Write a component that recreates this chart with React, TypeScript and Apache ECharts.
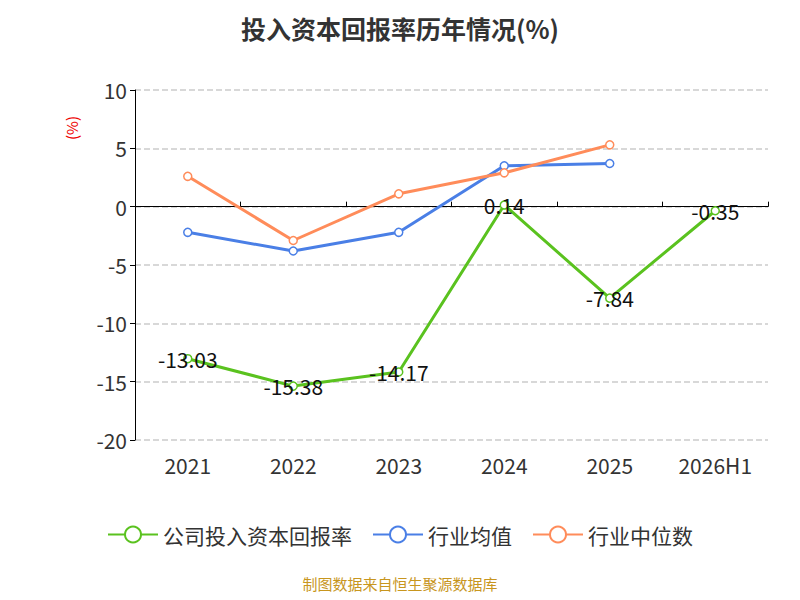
import React, { useEffect, useRef } from "react";
import * as echarts from "echarts";

const categories = ["2021", "2022", "2023", "2024", "2025", "2026H1"];
const company = [-13.03, -15.38, -14.17, 0.14, -7.84, -0.35];
const industryMean = [-2.2, -3.8, -2.2, 3.5, 3.7, null];
const industryMedian = [2.6, -2.9, 1.1, 2.9, 5.3, null];

export default function App() {
  const ref = useRef<HTMLDivElement>(null);
  useEffect(() => {
    const chart = echarts.init(ref.current!, null, { renderer: "svg" });
    const font = "'Noto Sans CJK SC', 'Noto Sans', sans-serif";
    chart.setOption({
      animation: false,
      textStyle: { fontFamily: font },
      title: {
        text: "投入资本回报率历年情况(%)",
        left: "center",
        top: 2,
        textStyle: { fontSize: 25, fontWeight: "bold", color: "#333", fontFamily: font },
      },
      grid: { left: 127, right: 24, top: 82, bottom: 152 },
      legend: {
        bottom: 42,
        itemWidth: 50,
        itemHeight: 20,
        itemGap: 20,
        textStyle: { fontSize: 21, color: "#333" },
        data: ["公司投入资本回报率", "行业均值", "行业中位数"],
      },
      graphic: [
        {
          type: "text",
          left: "center",
          top: 568,
          style: { text: "制图数据来自恒生聚源数据库", fill: "#c8961e", fontSize: 15, fontFamily: font },
        },
        {
          type: "text",
          x: 56,
          y: 132,
          rotation: Math.PI / 2,
          style: { text: "(%)", fill: "#e00", fontSize: 15, fontFamily: font },
        },
      ],
      xAxis: [
        {
          type: "category",
          data: categories,
          position: "bottom",
          axisLine: { show: false, onZero: false },
          axisTick: { show: false },
          axisLabel: { fontSize: 21, color: "#333", margin: 14 },
        },
        {
          type: "category",
          data: categories,
          axisLine: { onZero: true, lineStyle: { color: "#000" } },
          axisTick: { show: true, length: 5 },
          axisLabel: { show: false },
        },
      ],
      yAxis: {
        type: "value",
        min: -20,
        max: 10,
        interval: 5,
        axisLine: { show: true, lineStyle: { color: "#000" } },
        axisTick: { show: true },
        axisLabel: { fontSize: 21, color: "#333" },
        splitLine: { lineStyle: { type: "dashed", color: "#ccc", width: 1.5 } },
      },
      series: [
        {
          name: "公司投入资本回报率",
          type: "line",
          data: company,
          color: "#5ac21f",
          symbol: "circle",
          symbolSize: 8,
          itemStyle: { color: "#fff", borderColor: "#5ac21f", borderWidth: 1.5 },
          lineStyle: { width: 3, color: "#5ac21f" },
          label: { show: true, position: "inside", fontSize: 21, color: "#111" },
          z: 3,
        },
        {
          name: "行业均值",
          type: "line",
          data: industryMean,
          color: "#4a7fe6",
          symbol: "circle",
          symbolSize: 8,
          itemStyle: { color: "#fff", borderColor: "#4a7fe6", borderWidth: 1.5 },
          lineStyle: { width: 3, color: "#4a7fe6" },
        },
        {
          name: "行业中位数",
          type: "line",
          data: industryMedian,
          color: "#ff8c5a",
          symbol: "circle",
          symbolSize: 8,
          itemStyle: { color: "#fff", borderColor: "#ff8c5a", borderWidth: 1.5 },
          lineStyle: { width: 3, color: "#ff8c5a" },
        },
      ],
    });
    return () => chart.dispose();
  }, []);
  return <div ref={ref} style={{ width: 784, height: 584 }} />;
}
